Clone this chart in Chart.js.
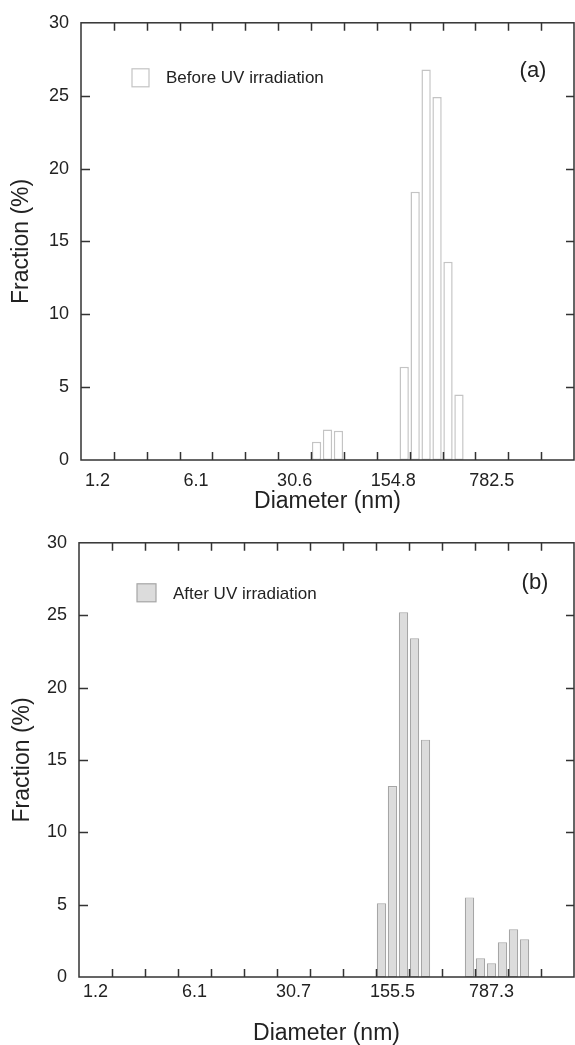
<!DOCTYPE html>
<html>
<head>
<meta charset="utf-8">
<script src="https://cdn.jsdelivr.net/npm/chart.js@4.4.1/dist/chart.umd.min.js"></script>
<style>
  html, body { margin: 0; padding: 0; background: #fff; }
  #wrap { position: relative; width: 575px; height: 1045px; }
  canvas { position: absolute; left: 0; }
  #chartBefore { top: 0; }
  #chartAfter { top: 520px; }
</style>
</head>
<body>
<div id="wrap">
  <canvas id="chartBefore" width="575" height="520"></canvas>
  <canvas id="chartAfter" width="575" height="525"></canvas>
</div>
<script>
// diameter axis is split into 45 log-spaced bins, bars sit on a bin index
var binCount = 45;
var beforeBins = [21, 22, 23, 29, 30, 31, 32, 33, 34];
var beforeValues = [1.25, 2.1, 2.0, 6.4, 18.4, 26.8, 24.9, 13.6, 4.5];
var afterBins = [27, 28, 29, 30, 31, 35, 36, 37, 38, 39, 40];
var afterValues = [5.1, 13.2, 25.2, 23.4, 16.4, 5.5, 1.3, 0.95, 2.4, 3.3, 2.6];

// tick labels and the bins they are centred on
var labelBins = [1, 10, 19, 28, 37];
var beforeTickLabels = ['1.2', '6.1', '30.6', '154.8', '782.5'];
var afterTickLabels = ['1.2', '6.1', '30.7', '155.5', '787.3'];

var fontFamily = "'Liberation Sans', Arial, sans-serif";
var textColor = '#222';

// frame, inward tick marks, legend box and panel letter
var framePlugin = {
    id: 'frame',
    afterDraw: function(chart, args, opts) {
        var ctx = chart.ctx, a = chart.chartArea;
        var xs = chart.scales.x, ys = chart.scales.y;
        var ds = chart.data.datasets[0];
        ctx.save();
        ctx.strokeStyle = '#333';
        ctx.lineWidth = 1.5;
        ctx.strokeRect(a.left, a.top, a.right - a.left, a.bottom - a.top);
        ctx.beginPath();
        for (var v = 2.5; v < binCount - 1; v += 3) {
            var px = Math.round(xs.getPixelForValue(v)) + 0.5;
            ctx.moveTo(px, a.bottom); ctx.lineTo(px, a.bottom - 8);
            ctx.moveTo(px, a.top); ctx.lineTo(px, a.top + 8);
        }
        for (var t = 5; t < 30; t += 5) {
            var py = Math.round(ys.getPixelForValue(t)) + 0.5;
            ctx.moveTo(a.left, py); ctx.lineTo(a.left + 9, py);
            ctx.moveTo(a.right, py); ctx.lineTo(a.right - 8, py);
        }
        ctx.stroke();

        // legend
        ctx.fillStyle = ds.backgroundColor;
        ctx.strokeStyle = ds.borderColor;
        ctx.lineWidth = 1.2;
        ctx.fillRect(a.left + opts.boxX, a.top + opts.boxY, opts.boxW, 18);
        ctx.strokeRect(a.left + opts.boxX, a.top + opts.boxY, opts.boxW, 18);
        ctx.fillStyle = textColor;
        ctx.font = '17px ' + fontFamily;
        ctx.textBaseline = 'middle';
        ctx.textAlign = 'left';
        ctx.fillText(ds.label, a.left + opts.textX, a.top + opts.textY);

        // panel letter
        ctx.font = '22px ' + fontFamily;
        ctx.textAlign = 'center';
        ctx.fillText(opts.letter, a.right - opts.letterX, a.top + opts.letterY);
        ctx.restore();
    }
};

function buildChart(id, label, bins, values, tickLabels, style) {
    var ctx = document.getElementById(id).getContext('2d');
    return new Chart(ctx, {
        type: 'bar',
        data: {
            datasets: [{
                label: label,
                data: bins.map(function(b, i) { return { x: b, y: values[i] }; }),
                backgroundColor: style.fill,
                borderColor: style.border,
                borderWidth: style.borderWidth,
                borderSkipped: false,
                barPercentage: 0.85,
                categoryPercentage: 1
            }]
        },
        options: {
            responsive: false,
            animation: false,
            devicePixelRatio: 1,
            layout: { padding: { top: 20, right: 1, left: 0, bottom: 0 } },
            plugins: {
                legend: { display: false },
                tooltip: { enabled: false },
                frame: style.frame
            },
            scales: {
                x: {
                    type: 'linear',
                    min: -0.5,
                    max: binCount - 0.5,
                    offset: false,
                    grid: { display: false, drawTicks: false },
                    border: { display: false },
                    afterBuildTicks: function(s) {
                        s.ticks = labelBins.map(function(v) { return { value: v }; });
                    },
                    afterFit: function(s) { s.height = style.xHeight; },
                    ticks: {
                        autoSkip: false,
                        maxRotation: 0,
                        padding: style.xTickPad,
                        color: textColor,
                        font: { family: fontFamily, size: 18 },
                        callback: function(v, i) { return tickLabels[i]; }
                    },
                    title: {
                        display: true,
                        text: 'Diameter (nm)',
                        color: textColor,
                        font: { family: fontFamily, size: 23, lineHeight: 1 },
                        padding: { top: 0, bottom: style.xTitlePad }
                    }
                },
                y: {
                    min: 0,
                    max: 30,
                    grid: { display: false, drawTicks: false },
                    border: { display: false },
                    afterFit: function(s) { s.width = style.yWidth; },
                    ticks: {
                        stepSize: 5,
                        padding: 12,
                        color: textColor,
                        font: { family: fontFamily, size: 18 }
                    },
                    title: {
                        display: true,
                        text: 'Fraction (%)',
                        color: textColor,
                        font: { family: fontFamily, size: 23, lineHeight: 1 },
                        padding: { top: style.yTitlePad, bottom: 0 }
                    }
                }
            }
        },
        plugins: [framePlugin]
    });
}

document.addEventListener('DOMContentLoaded', function() {
    buildChart('chartBefore', 'Before UV irradiation', beforeBins, beforeValues, beforeTickLabels, {
        fill: '#ffffff', border: '#c4c4c4', borderWidth: 1.5,
        xHeight: 60, xTickPad: 10, xTitlePad: 7, yWidth: 81, yTitlePad: 10,
        frame: { boxX: 51, boxY: 46, boxW: 17, textX: 85, textY: 56, letter: '(a)', letterX: 41, letterY: 48 }
    });
    buildChart('chartAfter', 'After UV irradiation', afterBins, afterValues, afterTickLabels, {
        fill: '#dcdcdc', border: '#a6a6a6', borderWidth: 1.2,
        xHeight: 68, xTickPad: 4, xTitlePad: 0, yWidth: 79, yTitlePad: 11,
        frame: { boxX: 58, boxY: 41, boxW: 19, textX: 94, textY: 52, letter: '(b)', letterX: 39, letterY: 40 }
    });
});
</script>
</body>
</html>
